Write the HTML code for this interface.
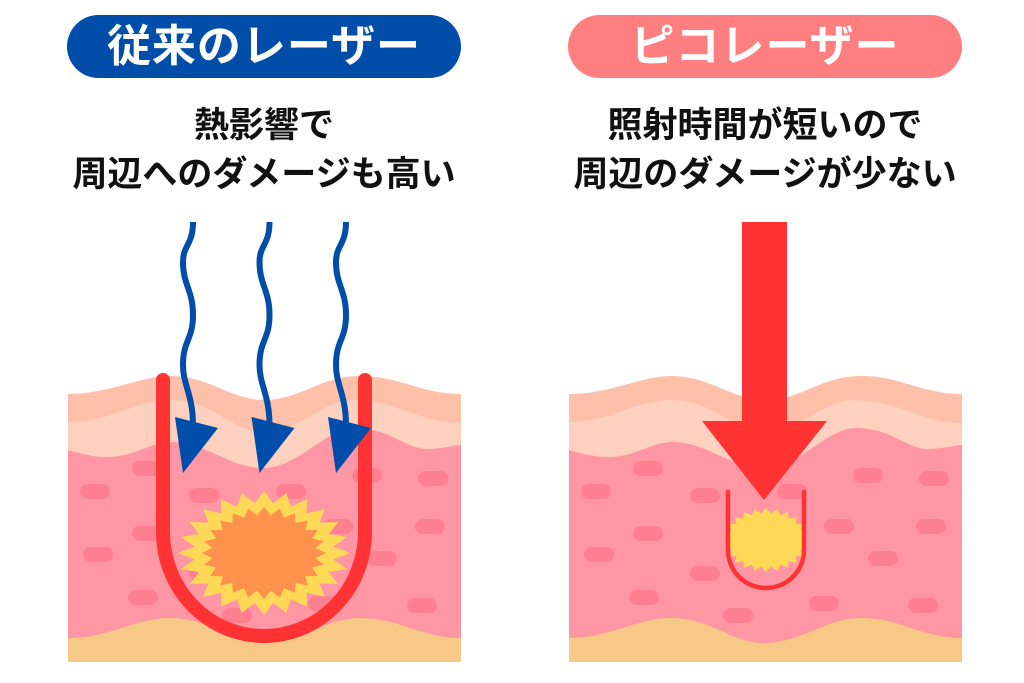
<!DOCTYPE html>
<html><head><meta charset="utf-8"><style>
html,body{margin:0;padding:0;background:#fff;}
body{width:1024px;height:683px;overflow:hidden;position:relative;font-family:"Liberation Sans","Noto Sans CJK JP",sans-serif;}
.pill{position:absolute;top:15px;height:63px;width:394px;border-radius:32px;color:#fff;font-weight:bold;font-size:44px;line-height:63px;text-align:center;letter-spacing:1px;}
.t{position:absolute;width:440px;text-align:center;font-weight:bold;font-size:35px;color:#111;line-height:49px;top:101px;}
svg{position:absolute;left:0;top:0;}
</style></head><body>
<div class="pill" style="left:67px;background:#004DAA;">従来のレーザー</div>
<div class="pill" style="left:568px;background:#FF7F80;">ピコレーザー</div>
<div class="t" style="left:44px;">熱影響で<br>周辺へのダメージも高い</div>
<div class="t" style="left:545px;">照射時間が短いので<br>周辺のダメージが少ない</div>
<svg width="1024" height="683" viewBox="0 0 1024 683">
<defs>
<g id="skin">
<path d="M68,394 C110,394 140,376 170,376 C210,376 230,400 265,400 C300,400 320,376 360,376 C400,376 420,394 461,394 L461,662 L68,662 Z" fill="#FEC0A8"/>
<path d="M68,422 C110,422 135,400 170,400 C215,400 230,432 265,432 C300,432 320,400 355,400 C395,400 420,423 461,423 L461,662 L68,662 Z" fill="#FED0BE"/>
<path d="M68,450 C85,455 95,457 107,457 C135,457 150,442 172,442 C205,442 230,468 262,468 C300,468 325,428 355,428 C390,428 405,449 427,449 C440,449 450,446 461,445 L461,662 L68,662 Z" fill="#FE96A4"/>
<g fill="#FE8090">
<rect x="132" y="461" width="30" height="15" rx="7.5"/>
<rect x="80" y="484" width="30" height="15" rx="7.5"/>
<rect x="189" y="488" width="30" height="15" rx="7.5"/>
<rect x="276" y="484" width="30" height="15" rx="7.5"/>
<rect x="352" y="468" width="30" height="15" rx="7.5"/>
<rect x="418" y="471" width="30" height="15" rx="7.5"/>
<rect x="132" y="526" width="30" height="15" rx="7.5"/>
<rect x="323" y="519" width="30" height="15" rx="7.5"/>
<rect x="415" y="519" width="30" height="15" rx="7.5"/>
<rect x="83" y="547" width="30" height="15" rx="7.5"/>
<rect x="367" y="551" width="30" height="15" rx="7.5"/>
<rect x="189" y="566" width="30" height="15" rx="7.5"/>
<rect x="128" y="590" width="30" height="15" rx="7.5"/>
<rect x="222" y="608" width="30" height="15" rx="7.5"/>
<rect x="308" y="596" width="30" height="15" rx="7.5"/>
<rect x="407" y="598" width="30" height="15" rx="7.5"/>
</g>
<path d="M68,638 C110,638 135,618 170,618 C210,618 230,643 263,643 C300,643 325,618 360,618 C400,618 420,638 461,638 L461,662 L68,662 Z" fill="#F7C886"/>
</g>
<clipPath id="uc"><rect x="727" y="480" width="78" height="120"/></clipPath>
</defs>
<use href="#skin"/>
<use href="#skin" transform="translate(501,0)"/>
<polygon id="s1" fill="#FED957"/>
<polygon id="s2" fill="#FE914C"/>
<path d="M163,380 L163,532 A101,104 0 0 0 365,532 L365,380" fill="none" stroke="#FF3333" stroke-width="14" stroke-linecap="round"/>
<g id="wav">
<path d="M193,222 C193,245 183,245 183,262 C183,285 193,290 193,315 C193,340 183,340 183,365 C183,385 193,395 193,425" fill="none" stroke="#004DAA" stroke-width="6"/>
<polygon points="175,417 218,428 183,473" fill="#004DAA"/>
</g>
<use href="#wav" transform="translate(76.5,0)"/>
<use href="#wav" transform="translate(153,0)"/>
<g clip-path="url(#uc)"><polygon id="s3" fill="#FED957"/></g>
<path d="M728,492 L728,550 A38,38 0 0 0 804,550 L804,492" fill="none" stroke="#FF3333" stroke-width="4.5" stroke-linecap="round"/>
<polygon points="742,222 787,222 787,421 827,421 764,500 702,421 742,421" fill="#FF3333"/>
</svg>
<script>
function star(id,cx,cy,rx,ry,ix,iy,n){var p=[];for(var i=0;i<2*n;i++){var a=Math.PI*i/n-Math.PI/2;var o=i%2==0;p.push((cx+Math.cos(a)*(o?rx:ix)).toFixed(1)+','+(cy+Math.sin(a)*(o?ry:iy)).toFixed(1));}document.getElementById(id).setAttribute('points',p.join(' '));}
star('s1',264,553,86,62,70,50,24);
star('s2',264,553,62,46,52,38,24);
star('s3',766,540,44,32,37,27,24);
</script>
</body></html>
